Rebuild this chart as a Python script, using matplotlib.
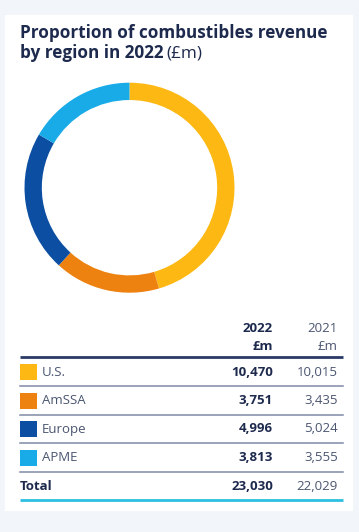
import matplotlib.pyplot as plt
from matplotlib.patches import Rectangle

regions = ['U.S.', 'AmSSA', 'Europe', 'APME']
rev_2022 = [10470, 3751, 4996, 3813]
rev_2021 = [10015, 3435, 5024, 3555]
total_2022 = '23,030'
total_2021 = '22,029'
colors = ['#FDB813', '#EE8210', '#0B4EA2', '#19ABE8']

navy = '#1d2a4d'
grey = '#4a5570'
plt.rcParams['font.family'] = ['Open Sans', 'DejaVu Sans']

W, H = 359, 532
fig = plt.figure(figsize=(W / 100, H / 100), dpi=100)
fig.patch.set_facecolor('#f2f6fb')

# base axes in pixel coords
ax = fig.add_axes([0, 0, 1, 1])
ax.set_xlim(0, W)
ax.set_ylim(H, 0)
ax.axis('off')
ax.add_patch(Rectangle((5, 15), 348, 496, facecolor='white', edgecolor='none'))

# title
ax.text(20, 33, 'Proportion of combustibles revenue', fontsize=12.3,
        fontweight='bold', color=navy, va='center')
t = ax.text(20, 53, 'by region in 2022', fontsize=12.3,
            fontweight='bold', color=navy, va='center')
fig.canvas.draw()
bb = t.get_window_extent()
x_end = bb.x1 / fig.dpi * 100
ax.text(x_end + 3, 53, '(£m)', fontsize=12.3, color=navy, va='center')

# donut
cx, cy, r = 129.5, 187.7, 105
dax = fig.add_axes([(cx - r) / W, (H - cy - r) / H, 2 * r / W, 2 * r / H])
dax.pie(rev_2022, colors=colors, startangle=90, counterclock=False,
        wedgeprops=dict(width=0.165, edgecolor='none'))
dax.set_xlim(-1, 1)
dax.set_ylim(-1, 1)
dax.set_aspect('equal')

# table
xl, xr = 20, 343
c1, c2 = 273, 338
ax.text(c1, 329, '2022', ha='right', va='center', fontsize=9.5,
        fontweight='bold', color=navy)
ax.text(c1, 346, '£m', ha='right', va='center', fontsize=9.5,
        fontweight='bold', color=navy)
ax.text(c2, 329, '2021', ha='right', va='center', fontsize=9.5, color=grey)
ax.text(c2, 346, '£m', ha='right', va='center', fontsize=9.5, color=grey)
ax.plot([xl, xr], [357, 357], color='#2a3a66', lw=2, solid_capstyle='butt')

y0, dy = 372, 28.5
for i, (reg, v22, v21, col) in enumerate(zip(regions, rev_2022, rev_2021, colors)):
    y = y0 + i * dy
    ax.add_patch(Rectangle((20, y - 8), 16.5, 16, facecolor=col, edgecolor='none'))
    ax.text(42, y, reg, va='center', fontsize=9.5, color=grey)
    ax.text(c1, y, f'{v22:,}', ha='right', va='center', fontsize=9.5,
            fontweight='bold', color=navy)
    ax.text(c2, y, f'{v21:,}', ha='right', va='center', fontsize=9.5, color=grey)
    ax.plot([xl, xr], [y + 14.3, y + 14.3], color='#7f8aa6', lw=1.1)

yt = y0 + 4 * dy
ax.text(20, yt, 'Total', va='center', fontsize=9.5, fontweight='bold', color=navy)
ax.text(c1, yt, total_2022, ha='right', va='center', fontsize=9.5,
        fontweight='bold', color=navy)
ax.text(c2, yt, total_2021, ha='right', va='center', fontsize=9.5, color=grey)
ax.plot([xl, xr], [500, 500], color='#2cc0e0', lw=2, solid_capstyle='butt')

fig.savefig('out.png', dpi=100, facecolor=fig.get_facecolor())
